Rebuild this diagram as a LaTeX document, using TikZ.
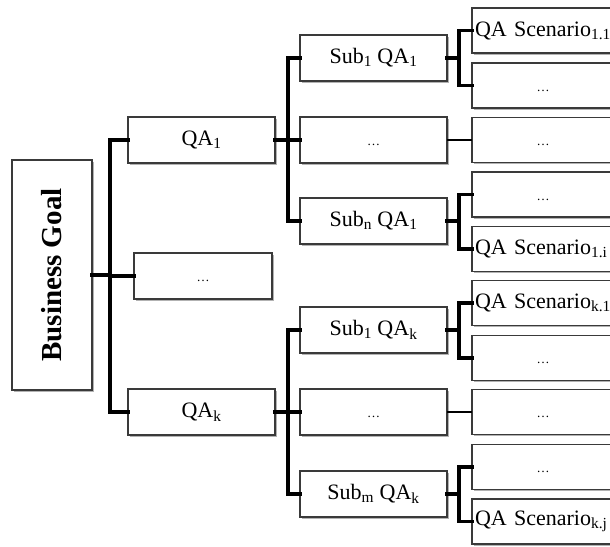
\documentclass[tikz,border=0pt]{standalone}
\usepackage{fontspec}
\setmainfont{Liberation Serif}
\usetikzlibrary{shadows}
\definecolor{boxline}{HTML}{3A3A3A}
\tikzset{
  box/.style={draw=boxline, line width=1.4pt, fill=white, inner sep=2pt, outer sep=0pt,
    minimum width=147pt, minimum height=46pt,
    font=\fontsize{22}{26}\selectfont,
    drop shadow={shadow xshift=1.6pt, shadow yshift=-1.6pt, opacity=0.3, fill=black}},
  leafbox/.style={box, minimum width=142pt, minimum height=45pt, text width=136pt, align=left},
  conn/.style={line width=3.6pt, black, line join=miter, line cap=rect},
  thinconn/.style={line width=2.4pt, black},
}
\newcommand{\dotsfill}{\vphantom{Q}{\fontsize{13}{13}\selectfont\ldots}}
\begin{document}
\begin{tikzpicture}[x=1pt,y=-1pt]
\useasboundingbox (0,0) rectangle (610,546);
\clip (0,0) rectangle (610,546);
% guide coordinates
\coordinate (t0) at (110,0);
\coordinate (a0) at (288,0);
\coordinate (b0) at (459,0);
% level 0
\node[box, minimum width=80pt, minimum height=230pt] (bg) at (52,275)
  {\rotatebox{90}{\fontsize{29}{32}\selectfont\bfseries Business Goal}};
% level 1
\node[box] (qa1) at (201.5,140) {QA\textsubscript{1}};
\node[box, minimum width=138pt] (qam) at (203,276) {\dotsfill};
\node[box] (qak) at (201.5,412) {QA\textsubscript{k}};
% level 2
\node[box] (s1a) at (373.5,58) {Sub\textsubscript{1} QA\textsubscript{1}};
\node[box] (s1m) at (373.5,140) {\dotsfill};
\node[box] (s1n) at (373.5,221) {Sub\textsubscript{n} QA\textsubscript{1}};
\node[box] (ska) at (373.5,330) {Sub\textsubscript{1} QA\textsubscript{k}};
\node[box] (skm) at (373.5,412) {\dotsfill};
\node[box] (skn) at (373.5,494) {Sub\textsubscript{m} QA\textsubscript{k}};
% level 3
\node[leafbox] (c1) at (543,30.5) {\mbox{QA Scenario\textsubscript{1.1}}};
\node[box, minimum width=142pt, minimum height=45pt] (c2) at (543,85.5) {\dotsfill};
\node[box, minimum width=142pt, minimum height=45pt] (c3) at (543,140) {\dotsfill};
\node[box, minimum width=142pt, minimum height=45pt] (c4) at (543,194.5) {\dotsfill};
\node[leafbox] (c5) at (543,249) {\mbox{QA Scenario\textsubscript{1.i}}};
\node[leafbox] (c6) at (543,303) {\mbox{QA Scenario\textsubscript{k.1}}};
\node[box, minimum width=142pt, minimum height=45pt] (c7) at (543,358) {\dotsfill};
\node[box, minimum width=142pt, minimum height=45pt] (c8) at (543,412) {\dotsfill};
\node[box, minimum width=142pt, minimum height=45pt] (c9) at (543,467) {\dotsfill};
\node[leafbox] (c10) at (543,521.5) {\mbox{QA Scenario\textsubscript{k.j}}};
% connectors level 0 -> 1
\draw[conn] (bg.east) -- (bg.east -| t0);
\draw[conn] (qa1.west) -- (qa1.west -| t0) |- (qak.west);
\draw[conn] (qam.west) -- (qam.west -| t0);
% level 1 -> 2
\draw[conn] (s1a.west) -- (s1a.west -| a0) |- (s1n.west);
\draw[conn] (qa1.east) -- (s1m.west);
\draw[conn] (ska.west) -- (ska.west -| a0) |- (skn.west);
\draw[conn] (qak.east) -- (skm.west);
% level 2 -> 3
\draw[conn] (c1.west) -- (c1.west -| b0) |- (c2.west);
\draw[conn] (s1a.east) -- (s1a.east -| b0);
\draw[thinconn] (s1m.east) -- (c3.west);
\draw[conn] (c4.west) -- (c4.west -| b0) |- (c5.west);
\draw[conn] (s1n.east) -- (s1n.east -| b0);
\draw[conn] (c6.west) -- (c6.west -| b0) |- (c7.west);
\draw[conn] (ska.east) -- (ska.east -| b0);
\draw[thinconn] (skm.east) -- (c8.west);
\draw[conn] (c9.west) -- (c9.west -| b0) |- (c10.west);
\draw[conn] (skn.east) -- (skn.east -| b0);
\end{tikzpicture}
\end{document}
